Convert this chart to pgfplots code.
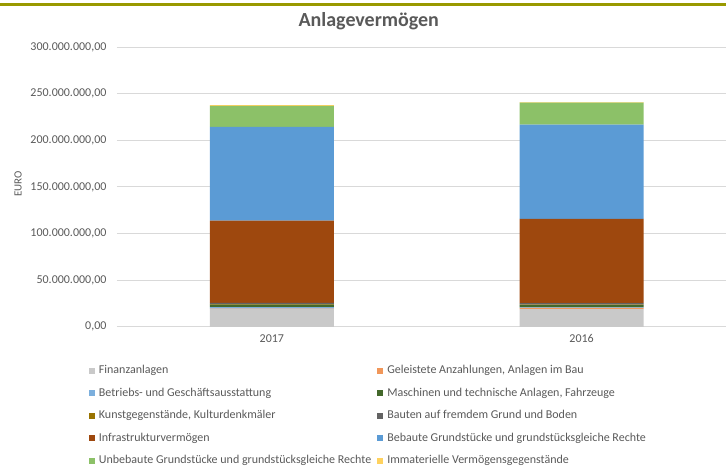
\documentclass[border=0pt]{standalone}
\usepackage{fontspec}
\setmainfont{Carlito}
\usepackage{pgfplots}
\pgfplotsset{compat=1.18}

\definecolor{txt}{HTML}{595959}
\definecolor{gridc}{HTML}{D9D9D9}
\definecolor{topbar}{HTML}{999900}
\definecolor{cFin}{HTML}{C9C9C9}
\definecolor{cGel}{HTML}{F1975A}
\definecolor{cBet}{HTML}{7CAFDD}
\definecolor{cMas}{HTML}{43682B}
\definecolor{cKun}{HTML}{997300}
\definecolor{cBau}{HTML}{636363}
\definecolor{cInf}{HTML}{9E480E}
\definecolor{cBeb}{HTML}{5B9BD5}
\definecolor{cUnb}{HTML}{8CC168}
\definecolor{cImm}{HTML}{FFD25F}

\begin{document}
\begin{tikzpicture}[x=1pt,y=1pt]
\path (0,0) rectangle (726,468);
\fill[topbar] (0,462) rectangle (726,465);
\node[font=\bfseries\fontsize{20}{24}\selectfont, text=txt] at (369,447) {Anlagevermögen};
\node[font=\fontsize{11}{13}\selectfont, text=txt, rotate=90] at (18,284) {EURO};

\begin{axis}[
    at={(117pt,141pt)}, anchor=south west,
    width=609pt, height=280pt, scale only axis,
    ybar stacked, bar width=124pt,
    xmin=-0.5, xmax=1.4645,
    ymin=0, ymax=300,
    ytick={0,50,100,150,200,250,300},
    yticklabels={{0,00},{50.000.000,00},{100.000.000,00},{150.000.000,00},{200.000.000,00},{250.000.000,00},{300.000.000,00}},
    xtick={0,1}, xticklabels={2017,2016},
    axis line style={draw=none},
    major tick length=0pt,
    ymajorgrids, grid style={draw=gridc, line width=0.9pt},
    tick label style={font=\fontsize{12}{14}\selectfont, text=txt},
    yticklabel style={xshift=-7pt},
    xticklabel style={yshift=-4pt},
    area legend,
    legend image code/.code={\fill[#1] (0pt,-3pt) rectangle (6pt,3pt);},
    legend columns=2,
    legend cell align=left,
    legend style={
        at={(-0.046,-0.1375)}, anchor=north west,
        draw=none, fill=none, inner sep=0pt, outer sep=0pt,
        font=\fontsize{12}{14}\selectfont, text=txt,
        row sep=11.5pt,
        nodes={inner sep=0pt, text height=8.5pt, text depth=2.5pt},
        /tikz/every odd column/.append style={column sep=4pt},
        /tikz/every even column/.append style={column sep=6pt},
    },
    every axis plot/.append style={draw=none},
]
% values in millions of EURO
\addplot[fill=cFin] coordinates {(0,19.3) (1,19.0)};
\addplot[fill=cGel] coordinates {(0,0.3) (1,1.3)};
\addplot[fill=cBet] coordinates {(0,1.6) (1,0.5)};
\addplot[fill=cMas] coordinates {(0,2.5) (1,2.4)};
\addplot[fill=cKun] coordinates {(0,0.6) (1,0.6)};
\addplot[fill=cBau] coordinates {(0,1.4) (1,1.5)};
\addplot[fill=cInf] coordinates {(0,88.0) (1,90.4)};
\addplot[fill=cBeb] coordinates {(0,100.6) (1,101.1)};
\addplot[fill=cUnb] coordinates {(0,22.5) (1,23.5)};
\addplot[fill=cImm] coordinates {(0,0.8) (1,0.6)};
\legend{Finanzanlagen,{Geleistete Anzahlungen, Anlagen im Bau},Betriebs- und Geschäftsausstattung,{Maschinen und technische Anlagen, Fahrzeuge},{Kunstgegenstände, Kulturdenkmäler},Bauten auf fremdem Grund und Boden,Infrastrukturvermögen,Bebaute Grundstücke und grundstücksgleiche Rechte,Unbebaute Grundstücke und grundstücksgleiche Rechte,Immaterielle Vermögensgegenstände}
\end{axis}
\end{tikzpicture}
\end{document}
